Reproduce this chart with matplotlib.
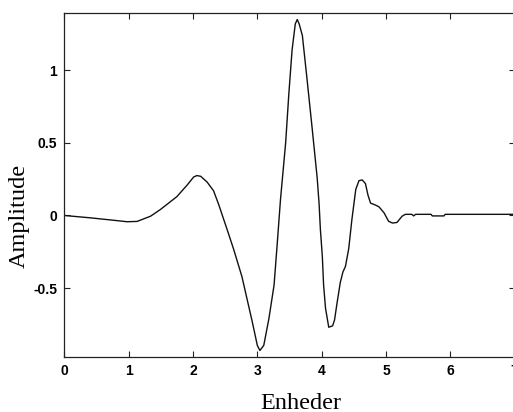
import matplotlib.pyplot as plt

# Waveform
t = [0.0, 0.40, 0.79, 0.975, 1.13, 1.34, 1.49, 1.62, 1.75, 1.91, 2.01, 2.06, 2.12, 2.22, 2.32,
     2.40, 2.53, 2.63, 2.76, 2.84, 2.92, 3.00, 3.04, 3.10, 3.18, 3.26, 3.31, 3.36,
     3.44, 3.49, 3.54, 3.59, 3.62, 3.65, 3.70, 3.77, 3.85, 3.93, 3.96, 3.98, 4.01,
     4.03, 4.06, 4.11, 4.17, 4.20, 4.24, 4.29, 4.33, 4.37, 4.42, 4.47, 4.53, 4.58,
     4.63, 4.68, 4.72, 4.76, 4.82, 4.89, 4.97, 5.04, 5.10, 5.17, 5.25, 5.30, 5.40,
     5.43, 5.46, 5.70, 5.72, 5.90, 5.92, 7.0]
amp = [0.0, -0.016, -0.034, -0.043, -0.041, -0.005, 0.04, 0.085, 0.13, 0.21, 0.265, 0.275, 0.27, 0.23, 0.17,
       0.075, -0.096, -0.23, -0.42, -0.575, -0.73, -0.895, -0.93, -0.895, -0.71, -0.48, -0.19, 0.11,
       0.50, 0.84, 1.14, 1.32, 1.35, 1.32, 1.24, 0.95, 0.61, 0.26, 0.08, -0.096, -0.28,
       -0.48, -0.64, -0.77, -0.76, -0.72, -0.60, -0.46, -0.39, -0.35, -0.23, -0.027, 0.18, 0.24,
       0.245, 0.22, 0.14, 0.085, 0.075, 0.06, 0.018, -0.04, -0.052, -0.048, -0.005, 0.008, 0.008,
       -0.003, 0.008, 0.008, -0.003, -0.003, 0.008, 0.008]

xticks = [0, 1, 2, 3, 4, 5, 6, 7]
yticks = [-0.5, 0, 0.5, 1]
ytick_labels = ['-0.5', '0', '0.5', '1']

fig = plt.figure(figsize=(5.13, 4.12), dpi=100)
ax = fig.add_axes([64.3 / 513, 1 - 357.3 / 412, 450.4 / 513, 344.3 / 412])

ax.plot(t, amp, color='#111111', lw=1.0)

ax.set_xlim(0, 7)
ax.set_ylim(-0.977, 1.395)
ax.set_xticks(xticks)
ax.set_yticks(yticks)
ax.set_yticklabels(ytick_labels)
ax.tick_params(direction='in', top=True, right=True, length=4, width=0.8,
               labelsize=10, pad=5, color='#222222')
for lab in ax.get_xticklabels() + ax.get_yticklabels():
    lab.set_fontweight('bold')
    lab.set_fontfamily('Liberation Sans')
for s in ax.spines.values():
    s.set_linewidth(0.9)
    s.set_color('#222222')

fig.text(19 / 513, 1 - 215.5 / 412, 'Amplitude', rotation=90, ha='center', va='center',
         family='Liberation Serif', fontsize=17.5)
fig.text(301 / 513, 1 - 409 / 412, 'Enheder', ha='center', va='baseline',
         family='Liberation Serif', fontsize=17.5)

fig.savefig('out.png', dpi=100)
